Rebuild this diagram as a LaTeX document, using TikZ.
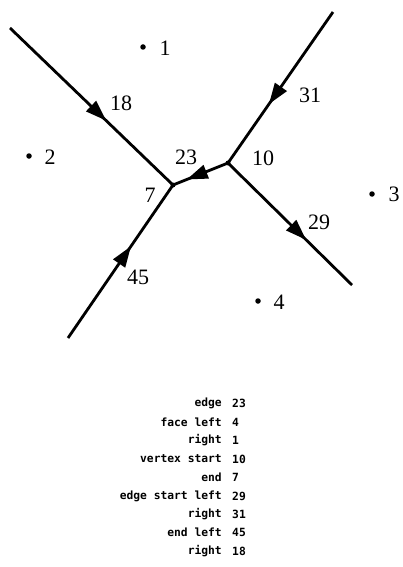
\documentclass[tikz,border=0pt]{standalone}
\usepackage{fontspec}
\setmainfont{Liberation Serif}
\newfontfamily\tabfont{DejaVu Sans Mono}
\usetikzlibrary{decorations.markings,arrows.meta}
\tikzset{
  edgeline/.style={line width=2.8pt},
  arrowat/.style={postaction={decorate,decoration={markings,
     mark=at position #1 with {\arrow{Triangle[length=21pt,width=14pt]}}}}},
  vdot/.style={circle,fill,inner sep=0pt,minimum size=5pt},
  fdot/.style={circle,fill,inner sep=0pt,minimum size=5.5pt},
  lab/.style={font=\fontsize{22}{24}\selectfont,inner sep=0pt},
  tkey/.style={font=\tabfont\bfseries\fontsize{11.3}{12}\selectfont,anchor=east,inner sep=0pt},
  tval/.style={font=\tabfont\bfseries\fontsize{11.3}{12}\selectfont,anchor=west,inner sep=0pt}
}
\begin{document}
\begin{tikzpicture}[x=1pt,y=-1pt]
\useasboundingbox (0,0) rectangle (402,567);
% vertices
\node[vdot] (v7) at (173,185) {};
\node[vdot] (v10) at (228,163) {};
\coordinate (e18) at (10,28);
\coordinate (e31) at (333,12);
\coordinate (e29) at (352,285);
\coordinate (e45) at (68,338);
% edges
\draw[edgeline,arrowat=0.59] (e18) -- (v7.center);
\draw[edgeline,arrowat=0.61] (e31) -- (v10.center);
\draw[edgeline,arrowat=0.63] (v10.center) -- (e29);
\draw[edgeline,arrowat=0.6] (e45) -- (v7.center);
\draw[edgeline,arrowat=0.75] (v10.center) -- (v7.center);
% faces
\node[fdot] (f1) at (143,47) {};
\node[fdot] (f2) at (29,156) {};
\node[fdot] (f3) at (372,194) {};
\node[fdot] (f4) at (258,301) {};
\node[lab] (l1) at (165,48) {1};
\node[lab] (l2) at (50,157) {2};
\node[lab] (l3) at (394,194) {3};
\node[lab] (l4) at (279,302) {4};
% edge / vertex labels
\node[lab] (l18) at (121,103) {18};
\node[lab] (l31) at (310,95) {31};
\node[lab] (l23) at (186,157) {23};
\node[lab] (l10) at (263,158) {10};
\node[lab] (l7) at (150,195) {7};
\node[lab] (l29) at (319,222) {29};
\node[lab] (l45) at (138,277) {45};
% table
\node[tkey] (k1) at (222,403) {edge};            \node[tval] (n1) at (232,403) {23};
\node[tkey] (k2) at (222,422) {face left};       \node[tval] (n2) at (232,422) {4};
\node[tkey] (k3) at (222,440) {right};           \node[tval] (n3) at (232,440) {1};
\node[tkey] (k4) at (222,459) {vertex start};    \node[tval] (n4) at (232,459) {10};
\node[tkey] (k5) at (222,477) {end};             \node[tval] (n5) at (232,477) {7};
\node[tkey] (k6) at (222,496) {edge start left}; \node[tval] (n6) at (232,496) {29};
\node[tkey] (k7) at (222,514) {right};           \node[tval] (n7) at (232,514) {31};
\node[tkey] (k8) at (222,532) {end left};        \node[tval] (n8) at (232,532) {45};
\node[tkey] (k9) at (222,551) {right};           \node[tval] (n9) at (232,551) {18};
\end{tikzpicture}
\end{document}
